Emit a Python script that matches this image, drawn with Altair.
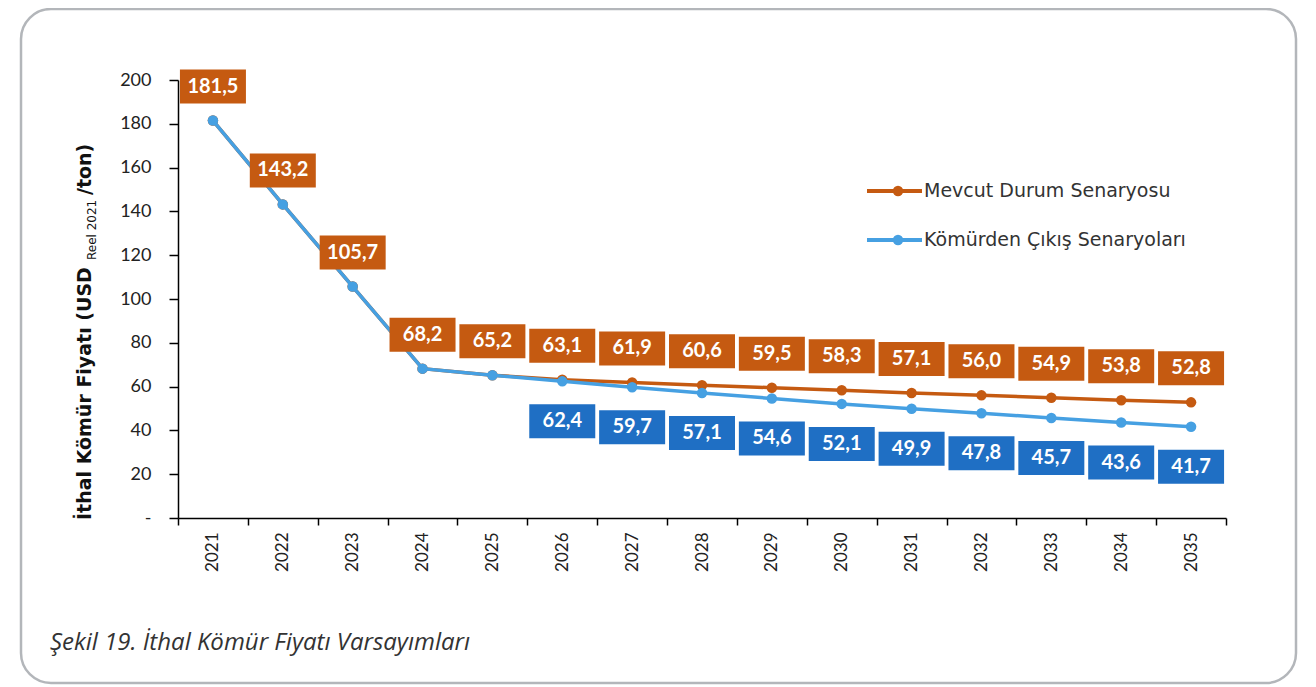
import altair as alt
import pandas as pd

# ---- data ----
years = [str(y) for y in range(2021, 2036)]
mevcut = [181.5, 143.2, 105.7, 68.2, 65.2, 63.1, 61.9, 60.6, 59.5, 58.3, 57.1, 56.0, 54.9, 53.8, 52.8]
cikis = [181.5, 143.2, 105.7, 68.2, 65.2, 62.4, 59.7, 57.1, 54.6, 52.1, 49.9, 47.8, 45.7, 43.6, 41.7]
cikis_labeled = [False] * 5 + [True] * 10
series_names = ["Mevcut Durum Senaryosu", "Kömürden Çıkış Senaryoları"]
y_ticks = list(range(0, 201, 20))
caption = "Şekil 19. İthal Kömür Fiyatı Varsayımları"

ORANGE_LINE = "#C55A11"
ORANGE_BOX = "#C55A11"
BLUE_LINE = "#46A0E2"
BLUE_BOX = "#1F6FC4"
FONT = "Lato"
WIDE = "DejaVu Sans"


def fmt(v):
    return f"{v:.1f}".replace(".", ",")


df_m = pd.DataFrame({"year": years, "value": mevcut, "label": [fmt(v) for v in mevcut]})
df_c = pd.DataFrame({"year": years, "value": cikis, "label": [fmt(v) for v in cikis],
                     "labeled": cikis_labeled})
one = pd.DataFrame({"a": [0]})

W, H = 1048, 438
PADL, PADT = 170, 72
TOTAL_W, TOTAL_H = 1300, 678

x_enc = alt.X("year:N", sort=years,
              scale=alt.Scale(paddingInner=0, paddingOuter=0),
              axis=alt.Axis(title=None, labelAngle=270, labelFont=FONT, labelFontSize=17,
                            labelColor="#222", tickBand="extent", tickSize=7,
                            tickColor="#000", domainColor="#000", domainWidth=1.5,
                            tickWidth=1.5, labelPadding=7, labelBaseline="middle",
                            labelAlign="right"))
y_enc = alt.Y("value:Q", scale=alt.Scale(domain=[0, 200], nice=False),
              axis=alt.Axis(title=None, values=y_ticks, grid=False, tickSize=9,
                            labelPadding=18, labelFont=FONT, labelFontSize=18,
                            labelColor="#222", tickColor="#000", domainColor="#000",
                            domainWidth=1.5, tickWidth=1.5,
                            labelExpr="datum.value == 0 ? '-' : datum.label"))

box_shape = "M-1,-0.515H1V0.515H-1Z"
BOX_SIZE = 66 * 66

line_m = alt.Chart(df_m).mark_line(color=ORANGE_LINE, strokeWidth=3.5).encode(x=x_enc, y=y_enc)
pts_m = alt.Chart(df_m).mark_point(color=ORANGE_LINE, filled=True, size=110, opacity=1).encode(x=x_enc, y=y_enc)
line_c = alt.Chart(df_c).mark_line(color=BLUE_LINE, strokeWidth=3.5).encode(x=x_enc, y=y_enc)
pts_c = alt.Chart(df_c).mark_point(color=BLUE_LINE, filled=True, size=110, opacity=1).encode(x=x_enc, y=y_enc)

box_m = alt.Chart(df_m).mark_point(shape=box_shape, size=BOX_SIZE, filled=True, opacity=1,
                                   color=ORANGE_BOX, strokeWidth=0, yOffset=-34).encode(x=x_enc, y=y_enc)
txt_m = alt.Chart(df_m).mark_text(color="white", font=FONT, fontSize=20, fontWeight="bold",
                                  yOffset=-34, baseline="middle", align="center").encode(
    x=x_enc, y=y_enc, text="label:N")

df_cl = df_c[df_c["labeled"]]
box_c = alt.Chart(df_cl).mark_point(shape=box_shape, size=BOX_SIZE, filled=True, opacity=1,
                                    color=BLUE_BOX, strokeWidth=0, yOffset=40).encode(x=x_enc, y=y_enc)
txt_c = alt.Chart(df_cl).mark_text(color="white", font=FONT, fontSize=20, fontWeight="bold",
                                   yOffset=40, baseline="middle", align="center").encode(
    x=x_enc, y=y_enc, text="label:N")


# page -> plot coordinates
def px(x):
    return x - (8 + PADL)


def py(y):
    return y - (8 + PADT)


border = alt.Chart(one).mark_rect(cornerRadius=30, fill="white", fillOpacity=0,
                                  stroke="#b3b6ba", strokeWidth=2.5).encode(
    x=alt.value(px(21)), x2=alt.value(px(1296)), y=alt.value(py(9)), y2=alt.value(py(683)))

legend_layers = []
for name, col, ly in [(series_names[0], ORANGE_LINE, 191), (series_names[1], BLUE_LINE, 240)]:
    legend_layers.append(alt.Chart(one).mark_rule(color=col, strokeWidth=4).encode(
        x=alt.value(px(867)), x2=alt.value(px(922)), y=alt.value(py(ly))))
    legend_layers.append(alt.Chart(one).mark_point(color=col, filled=True, size=110, opacity=1).encode(
        x=alt.value(px(898)), y=alt.value(py(ly))))
    legend_layers.append(alt.Chart(one).mark_text(text=name, align="left", baseline="middle",
                                                  font=WIDE, fontSize=19, color="#333").encode(
        x=alt.value(px(924)), y=alt.value(py(ly))))

title_main = alt.Chart(one).mark_text(text="İthal Kömür Fiyatı (USD", angle=270, align="left",
                                      baseline="middle", font=WIDE, fontSize=19, fontWeight="bold",
                                      color="#111").encode(x=alt.value(px(85)), y=alt.value(py(520)))
title_sub = alt.Chart(one).mark_text(text="Reel 2021", angle=270, align="left",
                                     baseline="middle", font=WIDE, fontSize=12,
                                     color="#111").encode(x=alt.value(px(92)), y=alt.value(py(260)))
title_end = alt.Chart(one).mark_text(text="/ton)", angle=270, align="left",
                                     baseline="middle", font=WIDE, fontSize=19, fontWeight="bold",
                                     color="#111").encode(x=alt.value(px(85)), y=alt.value(py(195)))

cap = alt.Chart(one).mark_text(text=caption, align="left", baseline="middle", font="Open Sans",
                               fontStyle="italic", fontSize=24, color="#333").encode(
    x=alt.value(px(50)), y=alt.value(py(643)))

chart = alt.layer(
    border, line_m, pts_m, line_c, pts_c, box_m, txt_m, box_c, txt_c,
    *legend_layers, title_main, title_sub, title_end, cap
).properties(
    width=W, height=H,
    autosize=alt.AutoSizeParams(type="none"),
    padding={"left": PADL, "top": PADT, "right": TOTAL_W - PADL - W, "bottom": TOTAL_H - PADT - H},
    background="white",
).configure_view(stroke=None)

chart.save("out.html", embed_options={"renderer": "svg", "actions": False})
